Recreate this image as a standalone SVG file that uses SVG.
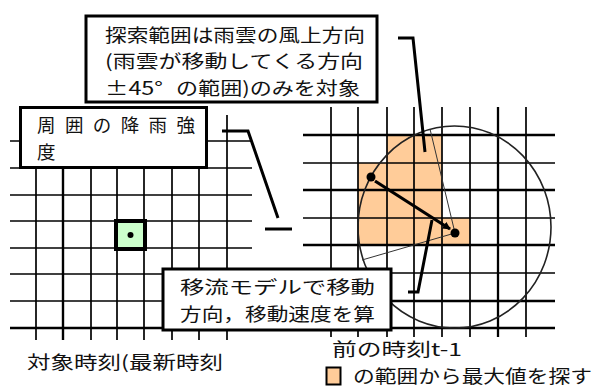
<svg xmlns="http://www.w3.org/2000/svg" width="594" height="388" viewBox="0 0 594 388">
<style>
.g line{stroke:#000;stroke-width:1.7}
.box{fill:#fff;stroke:#000;stroke-width:3}
.t{font-family:"Noto Sans CJK JP","Noto Sans",sans-serif;font-size:18px;fill:#111}
.con{fill:none;stroke:#000;stroke-width:3}
.thin{stroke:#333;stroke-width:1;fill:none}
</style>
<defs>
<marker id="ah" markerWidth="8" markerHeight="8" refX="7" refY="4" orient="auto" markerUnits="userSpaceOnUse">
<path d="M0,0 L8,4 L0,8 z" fill="#000"/>
</marker>
</defs>
<rect width="594" height="388" fill="#fff"/>

<g id="left-grid" class="g">
<line x1="10" y1="141" x2="252" y2="141"/>
<line x1="10" y1="168" x2="252" y2="168"/>
<line x1="10" y1="195" x2="252" y2="195"/>
<line x1="10" y1="221" x2="252" y2="221"/>
<line x1="10" y1="248" x2="252" y2="248"/>
<line x1="10" y1="274" x2="252" y2="274"/>
<line x1="10" y1="301" x2="252" y2="301"/>
<line x1="10" y1="328" x2="252" y2="328" style="stroke-width:2.4"/>
<line x1="36" y1="115" x2="36" y2="340"/>
<line x1="63" y1="115" x2="63" y2="340" style="stroke-width:2.4"/>
<line x1="91" y1="115" x2="91" y2="340"/>
<line x1="117" y1="115" x2="117" y2="340"/>
<line x1="144" y1="115" x2="144" y2="340"/>
<line x1="172" y1="115" x2="172" y2="340"/>
<line x1="199" y1="115" x2="199" y2="340"/>
<line x1="227" y1="115" x2="227" y2="340"/>
</g>

<g id="target-cell">
<rect x="116" y="221" width="29" height="28" fill="#ccffcc" stroke="#000" stroke-width="4"/>
<circle cx="130.5" cy="235" r="3" fill="#000"/>
</g>

<g id="search-area">
<polygon points="387,135 442,135 442,218 470,218 470,245 358,245 358,163 387,163" fill="#ffcc99"/>
</g>

<g id="right-grid" class="g">
<line x1="303" y1="135" x2="555" y2="135" style="stroke-width:2.3"/>
<line x1="303" y1="163" x2="555" y2="163"/>
<line x1="303" y1="190" x2="555" y2="190" style="stroke-width:2.3"/>
<line x1="303" y1="218" x2="555" y2="218"/>
<line x1="303" y1="245" x2="555" y2="245" style="stroke-width:2.3"/>
<line x1="303" y1="273" x2="555" y2="273"/>
<line x1="303" y1="301" x2="555" y2="301" style="stroke-width:2.3"/>
<line x1="303" y1="328" x2="555" y2="328" style="stroke-width:2.3"/>
<line x1="331" y1="107" x2="331" y2="337"/>
<line x1="358" y1="107" x2="358" y2="337"/>
<line x1="387" y1="107" x2="387" y2="337"/>
<line x1="414" y1="107" x2="414" y2="337"/>
<line x1="442" y1="107" x2="442" y2="337"/>
<line x1="470" y1="107" x2="470" y2="337"/>
<line x1="498" y1="107" x2="498" y2="337" style="stroke-width:2.3"/>
<line x1="526" y1="107" x2="526" y2="337"/>
</g>

<g id="search-circle">
<ellipse cx="454.5" cy="227" rx="96.5" ry="101" fill="none" stroke="#222" stroke-width="1.6"/>
<line class="thin" x1="430" y1="129" x2="455" y2="233"/>
<line class="thin" x1="362" y1="260" x2="455" y2="233"/>
</g>

<g id="motion">
<line x1="375" y1="181" x2="450" y2="229" stroke="#000" stroke-width="3.2" marker-end="url(#ah)"/>
<circle cx="371" cy="177" r="4.5" fill="#000"/>
<circle cx="455" cy="233" r="4.5" fill="#000"/>
</g>

<g id="connectors">
<polyline class="con" points="398,38 413,38 425,152"/>
<polyline class="con" points="222,131 248,131 278,218"/>
<line class="con" x1="265" y1="229" x2="292" y2="229"/>
<polyline class="con" points="408,292 418,292 432,220"/>
</g>

<g id="note-top">
<rect class="box" x="86" y="16" width="291" height="86"/>
<text class="t" x="105" y="41.5" textLength="260" lengthAdjust="spacingAndGlyphs">探索範囲は雨雲の風上方向</text>
<text class="t" x="105" y="68" textLength="258" lengthAdjust="spacingAndGlyphs">(雨雲が移動してくる方向</text>
<text class="t" x="105" y="94.5" textLength="58" lengthAdjust="spacingAndGlyphs">±45°</text>
<text class="t" x="176" y="94.5" textLength="184" lengthAdjust="spacingAndGlyphs">の範囲)のみを対象</text>
</g>

<g id="note-left">
<rect class="box" x="20.5" y="107.5" width="186" height="60"/>
<text class="t" x="37" y="132" style="font-size:18.5px" textLength="158" lengthAdjust="spacing">周囲の降雨強</text>
<text class="t" x="37" y="159" style="font-size:18.5px">度</text>
</g>

<g id="note-bottom">
<rect class="box" x="163" y="269" width="228" height="61"/>
<text class="t" x="180" y="293.5" textLength="195" lengthAdjust="spacingAndGlyphs">移流モデルで移動</text>
<text class="t" x="180" y="320.5" textLength="195" lengthAdjust="spacingAndGlyphs">方向，移動速度を算</text>
</g>

<g id="labels">
<text class="t" x="27" y="369" textLength="196" lengthAdjust="spacingAndGlyphs">対象時刻(最新時刻</text>
<text class="t" x="332" y="356" textLength="130" lengthAdjust="spacingAndGlyphs">前の時刻t-1</text>
<rect x="326.5" y="367.5" width="14" height="17" fill="#ffcc99" stroke="#000" stroke-width="2"/>
<text class="t" x="353" y="382.5" textLength="239" lengthAdjust="spacingAndGlyphs">の範囲から最大値を探す</text>
</g>
</svg>
